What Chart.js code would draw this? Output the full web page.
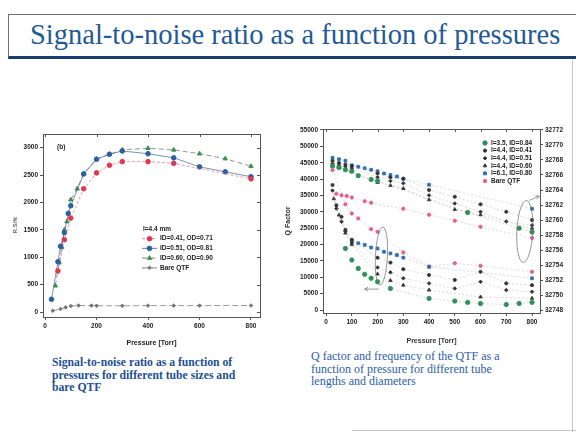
<!DOCTYPE html>
<html>
<head>
<meta charset="utf-8">
<script src="https://cdn.jsdelivr.net/npm/chart.js@4.4.1/dist/chart.umd.min.js"></script>
<style>
  html, body { margin: 0; padding: 0; background: #fff; }
  body { width: 576px; height: 435px; position: relative; overflow: hidden;
         font-family: "Liberation Serif", "Times New Roman", serif; }
  .title-box { position: absolute; left: 8px; top: 14px; width: 640px; height: 41px;
               border: 1px solid #6e6e6e; border-bottom: 3px solid #1c3c6e; }
  .title { position: absolute; left: 30px; top: 21px; font-size: 28.5px; line-height: 28px;
           color: #1f5a96; white-space: nowrap; }
  .edge-v { position: absolute; left: 572px; top: 60px; width: 1px; height: 372px; background: #c4c4c4; }
  .edge-h { position: absolute; left: 352px; top: 430px; width: 230px; height: 1px; background: #c4c4c4; }
  .caption { position: absolute; line-height: 12.5px; white-space: nowrap; }
  .caption.left { left: 52px; top: 357px; font-size: 11.7px; color: #1d4f91; font-weight: bold; }
  .caption.right { left: 311px; top: 350px; font-size: 12px; color: #2a5ea8; }
  canvas { position: absolute; }
  #snrChart { left: 12px; top: 125px; }
  #qfChart { left: 284px; top: 115px; }
</style>
</head>
<body>
<div class="title-box"></div>
<div class="title">Signal-to-noise ratio as a function of pressures</div>
<div class="edge-v"></div>
<div class="edge-h"></div>

<canvas id="snrChart" width="258" height="222"></canvas>
<canvas id="qfChart" width="300" height="230"></canvas>

<div class="caption left">Signal-to-noise ratio as a function of<br>pressures for different tube sizes and<br>bare QTF</div>
<div class="caption right">Q factor and frequency of the QTF as a<br>function of pressure for different tube<br>lengths and diameters</div>

<script>
// ---------- Signal-to-noise data (l = 4.4 mm) ----------
const snrPressureTicks = [0, 200, 400, 600, 800];
const snrTicks = [0, 500, 1000, 1500, 2000, 2500, 3000];

const snr041P = [50, 75, 100, 150, 200, 250, 300, 400, 500, 800];
const snr041V = [750, 1320, 1715, 2250, 2540, 2680, 2745, 2745, 2715, 2430];

const snr051P = [25, 50, 60, 75, 90, 100, 150, 200, 250, 300, 400, 500, 600, 700, 800];
const snr051V = [233, 918, 1200, 1450, 1800, 1940, 2520, 2790, 2880, 2940, 2890, 2815, 2650, 2560, 2470];

const snr060P = [40, 55, 65, 75, 85, 100, 125, 150, 200, 250, 300, 400, 500, 600, 700, 800];
const snr060V = [480, 900, 1180, 1500, 1650, 2050, 2250, 2530, 2790, 2880, 2960, 2990, 2960, 2890, 2800, 2660];

const snrBareP = [30, 60, 80, 100, 130, 180, 200, 300, 400, 500, 600, 800];
const snrBareV = [25, 55, 85, 110, 120, 118, 115, 115, 118, 118, 118, 120];

// ---------- Q factor / frequency data ----------
const qfPressureTicks = [0, 100, 200, 300, 400, 500, 600, 700, 800];
const qTicks = [0, 5000, 10000, 15000, 20000, 25000, 30000, 35000, 40000, 45000, 50000, 55000];
const fTicks = [32748, 32750, 32752, 32754, 32756, 32758, 32760, 32762, 32764, 32766, 32768, 32770, 32772];

// l=3.5, ID=0.84
const q35P = [75, 100, 125, 150, 175, 200, 250, 400, 500, 550, 600, 700, 750, 800];
const q35V = [18800, 15300, 12700, 10900, 9700, 8650, 6600, 3560, 2750, 2340, 2000, 1700, 2000, 2340];
const f35P = [25, 50, 75, 100, 125, 175, 200, 550, 750, 800];
const f35V = [32767.2, 32767.0, 32766.7, 32766.5, 32765.9, 32765.4, 32765.2, 32761.0, 32758.9, 32758.4];

// l=4.4, ID=0.41
const q41P = [25, 40, 60, 75, 100, 200, 250, 300, 400, 500, 600, 700, 800];
const q41V = [38200, 32000, 28500, 24500, 21500, 16000, 14500, 12500, 10700, 9200, 11700, 8150, 7600];
const f41P = [25, 50, 75, 100, 200, 250, 300, 400, 500, 600, 700, 800];
const f41V = [32767.9, 32767.6, 32767.4, 32767.2, 32766.2, 32765.7, 32765.5, 32764.0, 32763.1, 32762.1, 32761.1, 32760.0];

// l=4.4, ID=0.51
const q51P = [25, 40, 60, 75, 100, 200, 250, 300, 400, 500, 600, 700, 800];
const q51V = [36500, 31000, 27000, 24000, 20500, 13000, 11500, 9700, 8150, 6600, 8650, 6100, 5600];
const f51P = [25, 50, 75, 100, 200, 250, 300, 400, 500, 600, 700, 800];
const f51V = [32767.5, 32767.3, 32767.1, 32766.9, 32765.7, 32765.2, 32764.9, 32763.3, 32762.2, 32761.1, 32759.8, 32759.3];

// l=4.4, ID=0.60
const q60P = [30, 50, 75, 100, 200, 250, 300, 400, 600, 800];
const q60V = [34000, 29000, 23500, 20000, 11000, 9000, 7600, 6100, 4000, 3600];
const f60P = [25, 50, 100, 200, 250, 300, 400, 500, 600, 800];
const f60V = [32767.2, 32767.0, 32766.5, 32765.0, 32764.6, 32764.2, 32762.7, 32761.4, 32760.7, 32758.9];

// l=6.1, ID=0.80
const q61P = [100, 125, 150, 175, 200, 225, 250, 275, 300, 400, 800];
const q61V = [21100, 20400, 19900, 19100, 18800, 17800, 17300, 16800, 16000, 13200, 9700];
const f61P = [25, 50, 75, 100, 125, 150, 175, 200, 225, 250, 275, 300, 400, 800];
const f61V = [32768.3, 32768.1, 32767.9, 32767.3, 32767.1, 32766.9, 32766.7, 32766.5, 32766.2, 32766.0, 32765.8, 32765.5, 32764.7, 32761.5];

// Bare QTF
const qBareP = [25, 75, 100, 125, 175, 200, 300, 400, 500, 600, 800];
const qBareV = [42800, 32300, 29500, 28000, 24700, 23900, 17600, 13300, 14300, 13500, 11700];
const fBareP = [40, 60, 80, 100, 150, 175, 300, 400, 500, 600, 800];
const fBareV = [32763.5, 32763.3, 32763.2, 32763.0, 32762.5, 32762.3, 32761.5, 32760.7, 32759.9, 32759.1, 32757.6];

// zip pressure / value arrays into {x, y} points
function makePoints(xs, ys) {
  return xs.map((x, i) => ({ x: x, y: ys[i] }));
}

const AXIS_FONT = { family: "Arial, 'Liberation Sans', sans-serif", size: 6.5, weight: 'bold' };

// Box frame with small ticks on top and right edges (Origin style)
const framePlugin = {
  id: 'frame',
  afterDraw(chart, args, opts) {
    const { ctx, chartArea: a } = chart;
    ctx.save();
    ctx.strokeStyle = '#555';
    ctx.lineWidth = 1;
    ctx.strokeRect(a.left + 0.5, a.top + 0.5, a.right - a.left, a.bottom - a.top);
    const xs = chart.scales.x;
    xs.ticks.forEach(t => {
      const px = Math.round(xs.getPixelForValue(t.value)) + 0.5;
      ctx.beginPath(); ctx.moveTo(px, a.top); ctx.lineTo(px, a.top + 3); ctx.stroke();
    });
    if (opts.mirrorY) {
      const ys = chart.scales.y;
      ys.ticks.forEach(t => {
        const py = Math.round(ys.getPixelForValue(t.value)) + 0.5;
        ctx.beginPath(); ctx.moveTo(a.right, py); ctx.lineTo(a.right - 3, py); ctx.stroke();
      });
    }
    ctx.restore();
  }
};

// Legend drawn inside the plot area
const insideLegendPlugin = {
  id: 'insideLegend',
  afterDatasetsDraw(chart, args, opts) {
    const ctx = chart.ctx;
    const a = chart.chartArea;
    ctx.save();
    ctx.font = "bold 6.5px Arial, 'Liberation Sans', sans-serif";
    ctx.textBaseline = 'middle';
    ctx.fillStyle = '#222';
    let y = a.top + opts.top;
    const x0 = a.left + opts.left;
    if (opts.header) {
      ctx.fillText(opts.header, x0 + (opts.lineLen ? 1 : 0), y);
      y += opts.rowGap;
    }
    opts.items.forEach(item => {
      const ds = chart.data.datasets[item.index];
      if (opts.lineLen) {
        ctx.strokeStyle = ds.legendLine || ds.borderColor;
        ctx.lineWidth = 1.2;
        ctx.setLineDash(ds.borderDash || []);
        ctx.beginPath(); ctx.moveTo(x0, y); ctx.lineTo(x0 + opts.lineLen, y); ctx.stroke();
        ctx.setLineDash([]);
      }
      ctx.fillStyle = ds.pointBackgroundColor;
      ctx.strokeStyle = ds.pointBorderColor;
      ctx.lineWidth = 1;
      Chart.helpers.drawPoint(ctx, { pointStyle: ds.pointStyle, radius: ds.pointRadius, rotation: 0, borderWidth: 1 },
        x0 + (opts.lineLen ? opts.lineLen / 2 : 0), y);
      ctx.fillStyle = '#222';
      ctx.fillText(item.label, x0 + (opts.lineLen || 0) + opts.textGap, y);
      y += opts.rowGap;
    });
    if (opts.tag) {
      ctx.fillText(opts.tag, a.left + 14, a.top + 13);
    }
    ctx.restore();
  }
};

// Ellipses with arrows marking which axis a group belongs to
const groupMarkPlugin = {
  id: 'groupMarks',
  afterDatasetsDraw(chart, args, opts) {
    const ctx = chart.ctx;
    const xs = chart.scales.x, ys = chart.scales.y;
    ctx.save();
    ctx.strokeStyle = 'rgba(110,110,110,0.8)';
    ctx.lineWidth = 0.9;
    opts.marks.forEach(m => {
      const cx = xs.getPixelForValue(m.x), cy = ys.getPixelForValue(m.y);
      ctx.beginPath();
      ctx.ellipse(cx, cy, m.rx, m.ry, m.tilt || 0, 0, Math.PI * 2);
      ctx.stroke();
      const ax0 = xs.getPixelForValue(m.arrowFrom[0]), ay0 = ys.getPixelForValue(m.arrowFrom[1]);
      const ax1 = xs.getPixelForValue(m.arrowTo[0]), ay1 = ys.getPixelForValue(m.arrowTo[1]);
      ctx.beginPath(); ctx.moveTo(ax0, ay0); ctx.lineTo(ax1, ay1); ctx.stroke();
      const ang = Math.atan2(ay1 - ay0, ax1 - ax0);
      ctx.beginPath();
      ctx.moveTo(ax1, ay1);
      ctx.lineTo(ax1 - 4 * Math.cos(ang - 0.5), ay1 - 4 * Math.sin(ang - 0.5));
      ctx.moveTo(ax1, ay1);
      ctx.lineTo(ax1 - 4 * Math.cos(ang + 0.5), ay1 - 4 * Math.sin(ang + 0.5));
      ctx.stroke();
    });
    ctx.restore();
  }
};

function linearAxis(opts) {
  return Object.assign({
    type: 'linear',
    grid: { display: true, drawOnChartArea: false, tickLength: 3, color: '#555' },
    border: { color: '#555' },
    ticks: { font: AXIS_FONT, color: '#222', padding: 2, maxRotation: 0, autoSkip: false,
             callback: v => String(v) },
  }, opts);
}

function setTicks(values) {
  return scale => { scale.ticks = values.map(v => ({ value: v })); };
}

// ---------- Signal-to-noise chart ----------
function snrDataset(label, xs, ys, color, line, dash, style, radius) {
  return {
    label: label,
    data: makePoints(xs, ys),
    showLine: true,
    borderColor: line,
    borderWidth: 1,
    borderDash: dash,
    pointStyle: style,
    pointRadius: radius,
    pointBackgroundColor: color,
    pointBorderColor: color,
    legendLine: line
  };
}

new Chart(document.getElementById('snrChart'), {
  type: 'scatter',
  data: {
    datasets: [
      snrDataset('ID=0.41, OD=0.71', snr041P, snr041V, '#e0364f', 'rgba(225,90,110,0.6)', [3, 2], 'circle', 2.3),
      snrDataset('ID=0.51, OD=0.81', snr051P, snr051V, '#2b5fa5', 'rgba(80,110,160,0.75)', [], 'circle', 2.3),
      snrDataset('ID=0.60, OD=0.90', snr060P, snr060V, '#3c8f4f', 'rgba(110,120,110,0.75)', [5, 3], 'triangle', 2.5),
      snrDataset('Bare QTF', snrBareP, snrBareV, '#777', 'rgba(120,120,120,0.75)', [6, 3], 'rectRot', 1.8)
    ]
  },
  options: {
    responsive: false,
    animation: false,
    layout: { padding: { top: 9, right: 10, left: 0, bottom: 0 } },
    plugins: {
      legend: { display: false },
      tooltip: { enabled: false },
      frame: { mirrorY: true },
      insideLegend: {
        left: 99, top: 95, rowGap: 9.7, lineLen: 15, textGap: 3,
        header: 'l=4.4 mm', tag: '(b)',
        items: [
          { index: 0, label: 'ID=0.41, OD=0.71' },
          { index: 1, label: 'ID=0.51, OD=0.81' },
          { index: 2, label: 'ID=0.60, OD=0.90' },
          { index: 3, label: 'Bare QTF' }
        ]
      }
    },
    scales: {
      x: linearAxis({
        min: -8, max: 835,
        afterBuildTicks: setTicks(snrPressureTicks),
        title: { display: true, text: 'Pressure [Torr]', font: { family: AXIS_FONT.family, size: 7, weight: 'bold' }, color: '#222', padding: { top: 3, bottom: 0 } },
        afterFit: s => { s.height = 30; }
      }),
      y: linearAxis({
        min: -90, max: 3250,
        afterBuildTicks: setTicks(snrTicks),
        title: { display: true, text: 'R.S/N', font: { family: AXIS_FONT.family, size: 6, weight: 'bold' }, color: '#666', padding: 0 },
        afterFit: s => { s.width = 31; }
      })
    }
  },
  plugins: [framePlugin, insideLegendPlugin]
});

// ---------- Q factor / frequency chart ----------
function qfDataset(label, xs, ys, axis, color, style, radius) {
  return {
    label: label,
    data: makePoints(xs, ys),
    yAxisID: axis,
    showLine: true,
    borderColor: 'rgba(150,150,150,0.45)',
    borderWidth: 0.8,
    borderDash: [2, 2],
    pointStyle: style,
    pointRadius: radius,
    pointBackgroundColor: color,
    pointBorderColor: color
  };
}

const GREEN = '#2f8f5b', DARK = '#333', BLUE = '#2f6db5', PINK = '#e5608c';

new Chart(document.getElementById('qfChart'), {
  type: 'scatter',
  data: {
    datasets: [
      qfDataset('l=3.5, ID=0.84', q35P, q35V, 'y', GREEN, 'circle', 2.2),
      qfDataset('l=4.4, ID=0.41', q41P, q41V, 'y', DARK, 'circle', 1.6),
      qfDataset('l=4.4, ID=0.51', q51P, q51V, 'y', DARK, 'rectRot', 1.8),
      qfDataset('l=4.4, ID=0.60', q60P, q60V, 'y', DARK, 'triangle', 2.0),
      qfDataset('l=6.1, ID=0.80', q61P, q61V, 'y', BLUE, 'rect', 2.0),
      qfDataset('Bare QTF', qBareP, qBareV, 'y', PINK, 'circle', 1.7),
      qfDataset('f l=3.5', f35P, f35V, 'yf', GREEN, 'circle', 2.2),
      qfDataset('f l=4.4 0.41', f41P, f41V, 'yf', DARK, 'circle', 1.6),
      qfDataset('f l=4.4 0.51', f51P, f51V, 'yf', DARK, 'rectRot', 1.8),
      qfDataset('f l=4.4 0.60', f60P, f60V, 'yf', DARK, 'triangle', 2.0),
      qfDataset('f l=6.1', f61P, f61V, 'yf', BLUE, 'rect', 2.0),
      qfDataset('f bare', fBareP, fBareV, 'yf', PINK, 'circle', 1.7)
    ]
  },
  options: {
    responsive: false,
    animation: false,
    layout: { padding: { top: 14, right: 0, left: 0, bottom: 0 } },
    plugins: {
      legend: { display: false },
      tooltip: { enabled: false },
      frame: { mirrorY: false },
      insideLegend: {
        left: 162, top: 14, rowGap: 7.6, lineLen: 0, textGap: 6,
        items: [
          { index: 0, label: 'l=3.5, ID=0.84' },
          { index: 1, label: 'l=4.4, ID=0.41' },
          { index: 2, label: 'l=4.4, ID=0.51' },
          { index: 3, label: 'l=4.4, ID=0.60' },
          { index: 4, label: 'l=6.1, ID=0.80' },
          { index: 5, label: 'Bare QTF' }
        ]
      },
      groupMarks: {
        marks: [
          { x: 215, y: 16500, rx: 6, ry: 29, tilt: 0.05, arrowFrom: [205, 6400], arrowTo: [150, 6400] },
          { x: 772, y: 24000, rx: 8, ry: 31, tilt: 0.05, arrowFrom: [790, 33500], arrowTo: [828, 34800] }
        ]
      }
    },
    scales: {
      x: linearAxis({
        min: -12, max: 831,
        afterBuildTicks: setTicks(qfPressureTicks),
        title: { display: true, text: 'Pressure [Torr]', font: { family: AXIS_FONT.family, size: 7, weight: 'bold' }, color: '#333', padding: { top: 4, bottom: 0 } },
        afterFit: s => { s.height = 32; }
      }),
      y: linearAxis({
        position: 'left',
        min: -900, max: 55300,
        afterBuildTicks: setTicks(qTicks),
        title: { display: true, text: 'Q Factor', font: { family: AXIS_FONT.family, size: 7, weight: 'bold' }, color: '#333', padding: 0 },
        afterFit: s => { s.width = 39; }
      }),
      yf: linearAxis({
        position: 'right',
        min: 32747.61, max: 32772.13,
        afterBuildTicks: setTicks(fTicks),
        title: { display: true, text: 'f [Hz]', font: { family: AXIS_FONT.family, size: 7, weight: 'bold' }, color: '#333', padding: 0 },
        afterFit: s => { s.width = 44; }
      })
    }
  },
  plugins: [framePlugin, insideLegendPlugin, groupMarkPlugin]
});
</script>
</body>
</html>
